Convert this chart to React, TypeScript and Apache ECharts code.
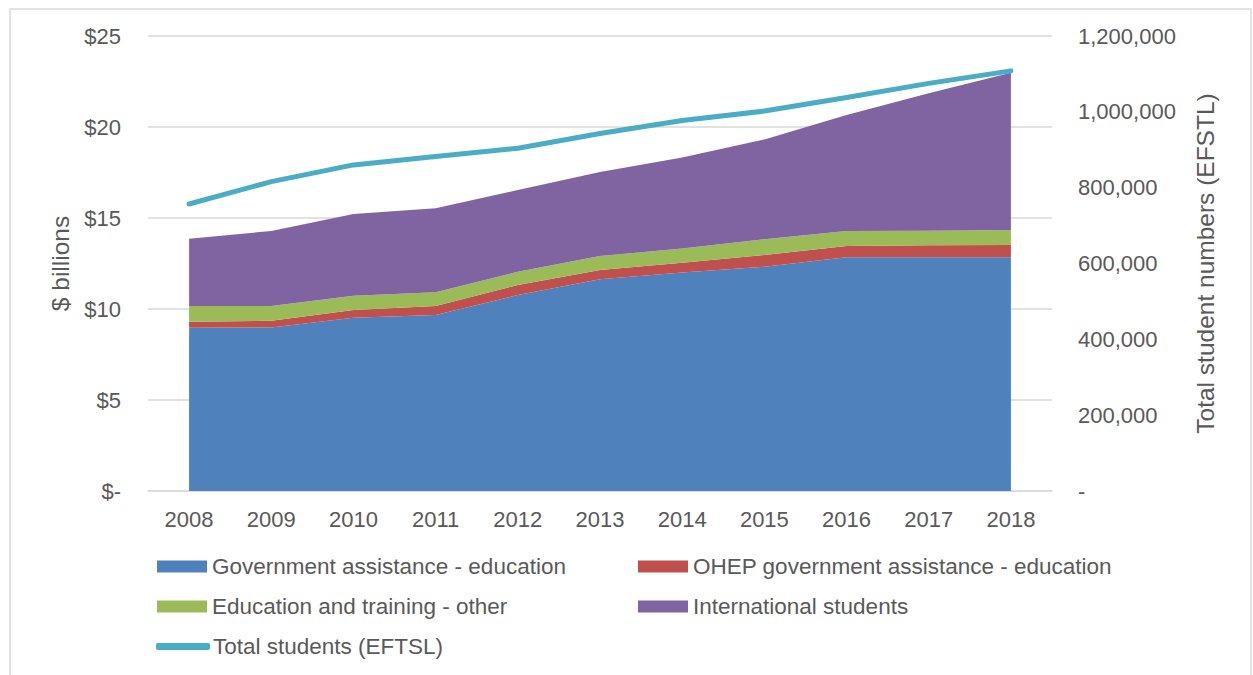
import React, { useEffect, useRef } from "react";
import * as echarts from "echarts";

const years = ["2008", "2009", "2010", "2011", "2012", "2013", "2014", "2015", "2016", "2017", "2018"];
const govAssist = [8.97, 8.99, 9.52, 9.67, 10.77, 11.63, 12.0, 12.32, 12.84, 12.84, 12.85];
const ohepAssist = [0.33, 0.36, 0.43, 0.49, 0.55, 0.51, 0.54, 0.65, 0.62, 0.66, 0.67];
const eduOther = [0.86, 0.81, 0.78, 0.76, 0.73, 0.77, 0.79, 0.86, 0.83, 0.8, 0.82];
const intlStudents = [3.7, 4.13, 4.49, 4.61, 4.49, 4.62, 5.0, 5.49, 6.37, 7.55, 8.64];
const totalStudents = [757000, 816000, 860000, 882000, 904000, 943000, 977000, 1002000, 1038000, 1075000, 1108000];

const names = [
  "Government assistance - education",
  "OHEP government assistance - education",
  "Education and training - other",
  "International students",
  "Total students (EFTSL)",
];
const colors = ["#4f81bd", "#c0504d", "#9bbb59", "#8064a2", "#4bacc6"];

const FONT = "Liberation Sans, Arial, sans-serif";
const TXT = "#595959";

export default function App() {
  const ref = useRef<HTMLDivElement>(null);
  useEffect(() => {
    if (!ref.current) return;
    const chart = echarts.init(ref.current, null, { renderer: "svg" });
    const areaSeries = [govAssist, ohepAssist, eduOther, intlStudents].map((d, i) => ({
      name: names[i],
      type: "line",
      stack: "total",
      data: d,
      symbol: "none",
      lineStyle: { width: 0 },
      areaStyle: { color: colors[i], opacity: 1 },
      itemStyle: { color: colors[i] },
      z: 2,
    }));
    const legendPos = [
      [157, 555],
      [638, 555],
      [157, 595],
      [638, 595],
      [156, 635],
    ];
    const legends = names.map((n, i) => ({
      data: [n],
      left: legendPos[i][0],
      top: legendPos[i][1],
      itemWidth: i === 4 ? 54 : 50,
      itemHeight: i === 4 ? 7 : 12,
      icon: i === 4 ? "roundRect" : "rect",
      itemGap: 0,
      padding: 0,
      selectedMode: false,
      textStyle: { fontFamily: FONT, fontSize: 22.5, color: TXT, padding: [0, 0, 0, i === 4 ? -2 : 0] },
    }));
    chart.setOption({
      animation: false,
      textStyle: { fontFamily: FONT },
      graphic: [
        {
          type: "rect",
          shape: { x: 10, y: 9, width: 1241, height: 700 },
          style: { fill: "none", stroke: "#d9d9d9", lineWidth: 1.5 },
          silent: true,
        },
      ],
      grid: { left: 148, right: 201, top: 36, bottom: 184 },
      legend: legends,
      xAxis: {
        type: "category",
        data: years,
        boundaryGap: true,
        axisLine: { lineStyle: { color: "#d9d9d9", width: 1.5 } },
        axisTick: { show: false },
        axisLabel: { color: TXT, fontSize: 22, fontFamily: FONT, margin: 17 },
      },
      yAxis: [
        {
          type: "value",
          min: 0,
          max: 25,
          interval: 5,
          name: "$ billions",
          nameLocation: "middle",
          nameGap: 73,
          nameTextStyle: { color: TXT, fontSize: 24.5, fontFamily: FONT },
          axisLine: { show: false },
          axisTick: { show: false },
          splitLine: { lineStyle: { color: "#d9d9d9", width: 1.5 } },
          axisLabel: {
            color: TXT,
            fontSize: 22,
            fontFamily: FONT,
            margin: 27,
            formatter: (v: number) => (v === 0 ? "$-" : "$" + v),
          },
        },
        {
          type: "value",
          min: 0,
          max: 1200000,
          interval: 200000,
          name: "Total student numbers (EFSTL)",
          nameLocation: "middle",
          nameGap: 141,
          nameTextStyle: { color: TXT, fontSize: 24.5, fontFamily: FONT },
          axisLine: { show: false },
          axisTick: { show: false },
          splitLine: { show: false },
          axisLabel: {
            color: TXT,
            fontSize: 22,
            fontFamily: FONT,
            margin: 26,
            align: "left",
            formatter: (v: number) => (v === 0 ? "-" : v.toLocaleString("en-US")),
          },
        },
      ],
      series: [
        ...areaSeries,
        {
          name: names[4],
          type: "line",
          yAxisIndex: 1,
          data: totalStudents,
          symbol: "none",
          lineStyle: { color: colors[4], width: 5, cap: "round", join: "round" },
          itemStyle: { color: colors[4] },
          z: 5,
        },
      ],
    });
    return () => chart.dispose();
  }, []);
  return (
    <div
      ref={ref}
      style={{ position: "absolute", left: 0, top: 0, width: 1253, height: 675, background: "#fff" }}
    />
  );
}
